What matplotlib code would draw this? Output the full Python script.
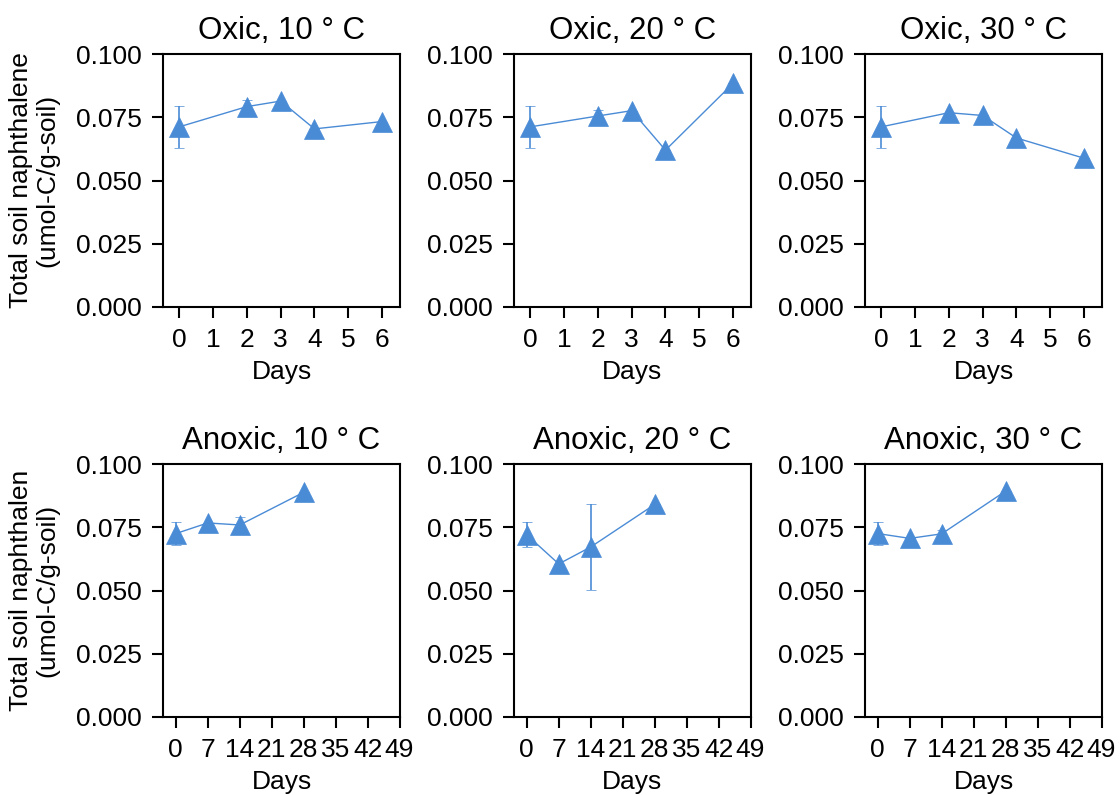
import matplotlib
matplotlib.use("Agg")
import matplotlib.pyplot as plt

plt.rcParams['font.family'] = ['Liberation Sans', 'DejaVu Sans']

color = "#4a8bd6"

oxic_days = [0, 2, 3, 4, 6]
anoxic_days = [0, 7, 14, 28]

oxic_10 = [0.0712, 0.0792, 0.0814, 0.0704, 0.0733]
oxic_10_err = [0.0082, 0.0025, 0.0, 0.0, 0.0]
oxic_20 = [0.0712, 0.0755, 0.0776, 0.0620, 0.0884]
oxic_20_err = [0.0082, 0.0023, 0.0, 0.0, 0.0]
oxic_30 = [0.0712, 0.0768, 0.0757, 0.0668, 0.0588]
oxic_30_err = [0.0082, 0.0, 0.0, 0.0, 0.0]

anoxic_10 = [0.0725, 0.0767, 0.0759, 0.0888]
anoxic_10_err = [0.0045, 0.0, 0.0030, 0.0]
anoxic_20 = [0.0720, 0.0605, 0.0672, 0.0840]
anoxic_20_err = [0.0050, 0.0, 0.0170, 0.0]
anoxic_30 = [0.0725, 0.0706, 0.0724, 0.0893]
anoxic_30_err = [0.0045, 0.0, 0.0015, 0.0]

top_titles = ["Oxic, 10 ° C", "Oxic, 20 ° C", "Oxic, 30 ° C"]
bottom_titles = ["Anoxic, 10 ° C", "Anoxic, 20 ° C", "Anoxic, 30 ° C"]
oxic_xticks = [0, 1, 2, 3, 4, 5, 6]
anoxic_xticks = [0, 7, 14, 21, 28, 35, 42, 49]
yticks = [0.0, 0.025, 0.05, 0.075, 0.1]
ylabel_top = "Total soil naphthalene\n(umol-C/g-soil)"
ylabel_bottom = "Total soil naphthalen\n(umol-C/g-soil)"

W, H = 1120, 795
fig = plt.figure(figsize=(W / 100, H / 100), dpi=100)

col_left = [163, 514, 865]
ax_w = 237
row_top = [54, 464]
ax_h = 253

top_data = [(oxic_10, oxic_10_err), (oxic_20, oxic_20_err), (oxic_30, oxic_30_err)]
bot_data = [(anoxic_10, anoxic_10_err), (anoxic_20, anoxic_20_err), (anoxic_30, anoxic_30_err)]

def style(ax):
    for s in ax.spines.values():
        s.set_linewidth(1.5)
    ax.tick_params(direction='out', length=8, width=1.5, labelsize=19, pad=7)

for r in range(2):
    for c in range(3):
        rect = [col_left[c] / W, 1 - (row_top[r] + ax_h) / H, ax_w / W, ax_h / H]
        ax = fig.add_axes(rect)
        if r == 0:
            days = oxic_days
            vals, errs = top_data[c]
            title = top_titles[c]
            xt = oxic_xticks
            xlim = (-0.48, 6.53)
        else:
            days = anoxic_days
            vals, errs = bot_data[c]
            title = bottom_titles[c]
            xt = anoxic_xticks
            xlim = (-2.8, 49.1)
        ax.errorbar(days, vals, yerr=errs, color=color, marker='^', ms=14.5,
                    mec=color, mew=0.5, lw=1, elinewidth=1.2, capsize=3.5,
                    capthick=1.5)
        ax.set_xlim(*xlim)
        ax.set_ylim(0, 0.1)
        ax.set_xticks(xt)
        ax.set_yticks(yticks)
        ax.set_yticklabels([f"{v:.3f}" for v in yticks])
        ax.set_title(title, fontsize=22.5, pad=11)
        ax.set_xlabel("Days", fontsize=19, labelpad=6)
        style(ax)
        if c == 0:
            ax.set_ylabel(ylabel_top if r == 0 else ylabel_bottom, fontsize=19,
                          labelpad=12, linespacing=1.15)

fig.savefig("out.png", dpi=100)
